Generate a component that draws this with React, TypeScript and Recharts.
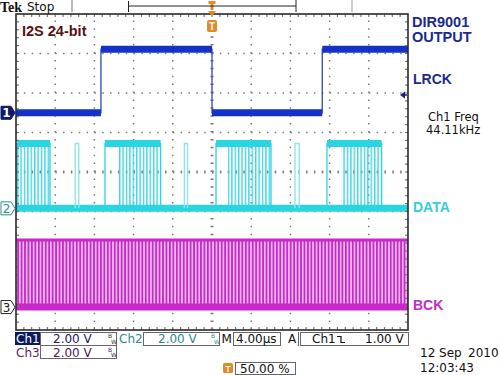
import React from 'react';
import { ComposedChart, Line, XAxis, YAxis, ReferenceLine, ReferenceArea, ReferenceDot } from 'recharts';

// ---- axes: time in µs (4 µs/div, 10 div), vertical in screen divisions (8 div)
const timeTicks = [0, 4, 8, 12, 16, 20, 24, 28, 32, 36, 40];
const divTicks = [-4, -3, -2, -1, 0, 1, 2, 3, 4];

// ---- Ch1 : LRCK (blue)
const lrckTimes = [0, 8.67, 8.67, 20.0, 20.0, 31.25, 31.25, 40];
const lrckLevels = [1.5, 1.5, 3.11, 3.11, 1.5, 1.5, 3.11, 3.11];

// ---- Ch2 : DATA (cyan)
const dataLow = -0.92;
const dataHigh = 0.72;
const burstStart = [0.13, 9.08, 20.41, 31.73];
const burstDenseStart = [0.13, 10.51, 21.63, 33.24];
const burstEnd = [3.47, 14.76, 26.02, 37.31];
const glitchStart = [6.05, 17.18, 28.47];
const glitchEnd = [6.4, 17.5, 28.9];

// ---- Ch3 : BCK (magenta)
const bckLow = -3.42;
const bckHigh = -1.72;
const bckSpan = [0, 40];

// ---- markers
const ch1TriggerLevel = 1.95;
const triggerTime = 20;

const BLUE = '#1432c8';
const CYAN = '#2ad4e0';
const MAGENTA = '#c828c8';
const NAVY = '#1b2a8f';
const ORANGE = '#e3892a';
const FONT = 'DejaVu Sans';
const ARIAL = 'Liberation Sans';

const lrckLine = lrckTimes.map((t, i) => ({ t, v: lrckLevels[i] }));
const lrckFlat: { t: number; v: number }[][] = [];
for (let i = 0; i < lrckTimes.length - 1; i++) {
  if (lrckLevels[i] === lrckLevels[i + 1] && lrckTimes[i] !== lrckTimes[i + 1]) {
    lrckFlat.push([
      { t: lrckTimes[i], v: lrckLevels[i] },
      { t: lrckTimes[i + 1], v: lrckLevels[i + 1] },
    ]);
  }
}
const dataBaseline = [
  { t: timeTicks[0], v: dataLow },
  { t: timeTicks[timeTicks.length - 1], v: dataLow },
];
const burstEdges = burstStart.map((s, i) => [
  { t: s, v: dataLow },
  { t: s, v: dataHigh },
  { t: burstEnd[i], v: dataHigh },
  { t: burstEnd[i], v: dataLow },
]);
const burstTops = burstStart.map((s, i) => [
  { t: s, v: dataHigh },
  { t: burstEnd[i], v: dataHigh },
]);
const glitches = glitchStart.map((s, i) => [
  { t: s, v: dataLow },
  { t: s, v: dataHigh },
  { t: glitchEnd[i], v: dataHigh },
  { t: glitchEnd[i], v: dataLow },
]);
const bckLowLine = bckSpan.map((t) => ({ t, v: bckLow }));
const bckHighLine = bckSpan.map((t) => ({ t, v: bckHigh }));

const ChannelMarker = (p: any) => {
  const { cx, cy, label, fill, stroke, color, bold } = p;
  return (
    <g>
      <path
        d={`M${cx - 15},${cy - 6.5} H${cx - 5} L${cx - 1},${cy} L${cx - 5},${cy + 6.5} H${cx - 15} Z`}
        fill={fill}
        stroke={stroke}
        strokeWidth={1}
      />
      <text x={cx - 9.5} y={cy + 4.5} textAnchor="middle" fontSize={12} fontWeight={bold ? 'bold' : 'normal'} fill={color} fontFamily={FONT}>
        {label}
      </text>
    </g>
  );
};

const BorderShape = (p: any) => {
  const { x, y, width, height } = p;
  const nx = (timeTicks.length - 1) * 5;
  const ny = (divTicks.length - 1) * 5;
  const ticks: React.ReactNode[] = [];
  for (let i = 1; i < nx; i++) {
    const xx = x + (width * i) / nx;
    ticks.push(<line key={'t' + i} x1={xx} x2={xx} y1={y} y2={y + 3} />);
    ticks.push(<line key={'b' + i} x1={xx} x2={xx} y1={y + height - 3} y2={y + height} />);
  }
  for (let i = 1; i < ny; i++) {
    const yy = y + (height * i) / ny;
    ticks.push(<line key={'l' + i} x1={x} x2={x + 3} y1={yy} y2={yy} />);
    ticks.push(<line key={'r' + i} x1={x + width - 3} x2={x + width} y1={yy} y2={yy} />);
  }
  return (
    <g>
      <g stroke="#777" strokeWidth={1.2}>{ticks}</g>
      <rect x={x} y={y} width={width} height={height} fill="none" stroke="#2a2a2a" strokeWidth={1.6} />
    </g>
  );
};

const TriggerPos = (p: any) => {
  const { cx, cy } = p;
  return (
    <g>
      <rect x={cx - 3.5} y={1} width={7} height={3} fill={ORANGE} />
      <rect x={cx - 1.5} y={1} width={3} height={9} fill={ORANGE} />
      <path d={`M${cx - 4},${cy - 3} L${cx + 4},${cy - 3} L${cx},${cy + 2} Z`} fill={ORANGE} />
      <rect x={cx - 5} y={cy + 6} width={10} height={12} rx={2} fill={ORANGE} />
      <text x={cx} y={cy + 16} textAnchor="middle" fontSize={10} fontWeight="bold" fill="#fff5e0" fontFamily={ARIAL}>T</text>
    </g>
  );
};

const TrigLevel = (p: any) => {
  const { cx, cy } = p;
  return (
    <g>
      <path d={`M${cx - 8},${cy} L${cx - 3},${cy - 3.5} L${cx - 3},${cy + 3.5} Z`} fill="#1a2070" />
      <line x1={cx - 3} x2={cx - 1} y1={cy} y2={cy} stroke="#1a2070" strokeWidth={1.5} />
    </g>
  );
};

const Overlay = () => (
  <svg width={500} height={375} style={{ position: 'absolute', left: 0, top: 0, pointerEvents: 'none' }}>
    {/* top bar */}
    <text x={0} y={11.5} fontFamily="Liberation Serif" fontWeight="bold" fontSize={14} fill="#111">Tek</text>
    <text x={27} y={10.5} fontFamily={FONT} fontSize={12} fill="#111">Stop</text>
    <line x1={72} x2={72} y1={0} y2={12} stroke="#777" strokeWidth={1} />
    <path d="M128.5,1 V12 M128.5,6 H296 M296,0 V12" stroke="#222" strokeWidth={1} fill="none" />
    <line x1={352} x2={352} y1={0} y2={12} stroke="#999" strokeWidth={1} />

    {/* in-plot title */}
    <text x={22} y={35.5} fontFamily={ARIAL} fontWeight="bold" fontSize={14.5} fill="#5a1010">I2S 24-bit</text>

    {/* right labels */}
    <text x={412} y={26.5} fontFamily={ARIAL} fontWeight="bold" fontSize={14.5} fill={NAVY}>DIR9001</text>
    <text x={412} y={41.5} fontFamily={ARIAL} fontWeight="bold" fontSize={14.5} fill={NAVY}>OUTPUT</text>
    <text x={413} y={83.5} fontFamily={ARIAL} fontWeight="bold" fontSize={14} fill={NAVY}>LRCK</text>
    <text x={428} y={121} fontFamily={FONT} fontSize={11.5} fill="#111">Ch1 Freq</text>
    <text x={426} y={134} fontFamily={FONT} fontSize={11.5} fill="#111">44.11kHz</text>
    <text x={413} y={212} fontFamily={ARIAL} fontWeight="bold" fontSize={14} fill="#36cdd8">DATA</text>
    <text x={413} y={310} fontFamily={ARIAL} fontWeight="bold" fontSize={14} fill="#c12cc3">BCK</text>

    {/* status row 1 */}
    <rect x={15} y={332} width={25} height={13} fill="#0b1a5e" />
    <text x={16} y={343} fontFamily={FONT} fontSize={12} fill="#fff">Ch1</text>
    <rect x={40.5} y={332.5} width={76} height={13} fill="#fff" stroke="#666" strokeWidth={1} />
    <text x={53} y={343} fontFamily={FONT} fontSize={12} fill="#1a2060">2.00 V</text>
    <text x={108} y={338} fontFamily={FONT} fontSize={6} fill="#333">B</text>
    <text x={111} y={343.5} fontFamily={FONT} fontSize={6} fill="#333">W</text>
    <text x={119} y={343} fontFamily={FONT} fontSize={12} fill="#2e8b8b">Ch2</text>
    <rect x={143.5} y={332.5} width={76} height={13} fill="#fff" stroke="#666" strokeWidth={1} />
    <text x={158} y={343} fontFamily={FONT} fontSize={12} fill="#2e8b8b">2.00 V</text>
    <text x={211} y={338} fontFamily={FONT} fontSize={6} fill="#2e8b8b">B</text>
    <text x={214} y={343.5} fontFamily={FONT} fontSize={6} fill="#2e8b8b">W</text>
    <text x={221.5} y={343} fontFamily={FONT} fontSize={12} fill="#111">M</text>
    <rect x={233.5} y={332.5} width={47} height={13} fill="#fff" stroke="#666" strokeWidth={1} />
    <text x={236} y={343} fontFamily={FONT} fontSize={12} fill="#111">4.00µs</text>
    <text x={288} y={343} fontFamily={FONT} fontSize={12} fill="#111">A</text>
    <line x1={298.5} x2={298.5} y1={332} y2={346} stroke="#666" />
    <rect x={300.5} y={332.5} width={108} height={13} fill="#fff" stroke="#666" strokeWidth={1} />
    <text x={312} y={343} fontFamily={FONT} fontSize={12} fill="#111">Ch1</text>
    <path d="M337,336.5 H341 V342.5 H345" stroke="#111" strokeWidth={1.2} fill="none" />
    <text x={365} y={343} fontFamily={FONT} fontSize={12} fill="#111">1.00 V</text>

    {/* status row 2 */}
    <text x={16} y={357} fontFamily={FONT} fontSize={12} fill="#5b2260">Ch3</text>
    <rect x={40.5} y={345.5} width={76} height={13} fill="#fff" stroke="#666" strokeWidth={1} />
    <text x={53} y={356.5} fontFamily={FONT} fontSize={12} fill="#4a1a50">2.00 V</text>
    <text x={108} y={351.5} fontFamily={FONT} fontSize={6} fill="#4a1a50">B</text>
    <text x={111} y={357} fontFamily={FONT} fontSize={6} fill="#4a1a50">W</text>

    {/* status row 3 */}
    <rect x={223} y={363} width={10} height={10} rx={1.5} fill={ORANGE} />
    <text x={228} y={371.5} textAnchor="middle" fontFamily={ARIAL} fontWeight="bold" fontSize={9} fill="#fff5e0">T</text>
    <rect x={235.5} y={362.5} width={60} height={12} fill="#fff" stroke="#666" strokeWidth={1} />
    <text x={240} y={373} fontFamily={FONT} fontSize={12} fill="#111">50.00 %</text>

    {/* date */}
    <text x={420} y={357} fontFamily={FONT} fontSize={12} fill="#111">12 Sep</text>
    <text x={468} y={357} fontFamily={FONT} fontSize={12} fill="#111">2010</text>
    <text x={420} y={372} fontFamily={FONT} fontSize={12} fill="#111">12:03:43</text>
  </svg>
);

export default function App() {
  const inner = timeTicks.slice(1, -1);
  const innerDiv = divTicks.slice(1, -1);
  return (
    <div style={{ position: 'absolute', left: 0, top: 0, width: 500, height: 375, background: '#fff', overflow: 'hidden' }}>
      <ComposedChart width={500} height={375} margin={{ top: 14, right: 92, bottom: 45, left: 16 }}>
        <defs>
          <pattern id="bckStripes" patternUnits="userSpaceOnUse" width={3.45} height={10}>
            <rect width={3.45} height={10} fill="#ebb6ee" />
            <rect x={0} width={1.7} height={10} fill={MAGENTA} />
          </pattern>
          <pattern id="dataStripes" patternUnits="userSpaceOnUse" width={3.4} height={10}>
            <rect x={0} width={1.4} height={10} fill="#3fd6e2" />
          </pattern>
        </defs>
        <XAxis type="number" dataKey="t" domain={[timeTicks[0], timeTicks[timeTicks.length - 1]]} ticks={timeTicks} hide allowDataOverflow />
        <YAxis type="number" dataKey="v" domain={[divTicks[0], divTicks[divTicks.length - 1]]} ticks={divTicks} hide allowDataOverflow />

        {inner.map((t) => (
          <ReferenceLine
            key={'vx' + t}
            x={t}
            stroke="#7a7a7a"
            strokeWidth={t === triggerTime ? 3 : 1.5}
            strokeDasharray="1.5 6.4"
            zIndex={-100}
          />
        ))}
        {innerDiv.map((d) => (
          <ReferenceLine
            key={'hy' + d}
            y={d}
            stroke="#7a7a7a"
            strokeWidth={d === 0 ? 3 : 1.5}
            strokeDasharray="1.5 6.34"
            zIndex={-100}
          />
        ))}

        {/* BCK */}
        <ReferenceArea x1={bckSpan[0]} x2={bckSpan[1]} y1={bckLow} y2={bckHigh} fill="url(#bckStripes)" fillOpacity={1} stroke="none" zIndex={100} />
        <Line data={bckHighLine} dataKey="v" stroke={MAGENTA} strokeWidth={3} dot={false} isAnimationActive={false} />
        <Line data={bckLowLine} dataKey="v" stroke={MAGENTA} strokeWidth={7} dot={false} isAnimationActive={false} />

        {/* DATA */}
        {burstStart.map((s, i) => (
          <ReferenceArea key={'ds' + i} x1={burstDenseStart[i]} x2={burstEnd[i]} y1={dataLow} y2={dataHigh} fill="url(#dataStripes)" fillOpacity={1} stroke="none" zIndex={100} />
        ))}
        <Line data={dataBaseline} dataKey="v" stroke={CYAN} strokeWidth={7} dot={false} isAnimationActive={false} />
        {glitches.map((g, i) => (
          <Line key={'g' + i} data={g} dataKey="v" stroke="#8fe4ec" strokeWidth={1.4} dot={false} isAnimationActive={false} />
        ))}
        {burstEdges.map((b, i) => (
          <Line key={'be' + i} data={b} dataKey="v" stroke={CYAN} strokeWidth={1.3} dot={false} isAnimationActive={false} />
        ))}
        {burstTops.map((b, i) => (
          <Line key={'bt' + i} data={b} dataKey="v" stroke={CYAN} strokeWidth={7} dot={false} isAnimationActive={false} />
        ))}

        {/* LRCK */}
        <Line data={lrckLine} dataKey="v" stroke="#3446b0" strokeWidth={1.3} dot={false} isAnimationActive={false} />
        {lrckFlat.map((seg, i) => (
          <Line key={'lf' + i} data={seg} dataKey="v" stroke={BLUE} strokeWidth={7} dot={false} isAnimationActive={false} />
        ))}

        {/* graticule border */}
        <ReferenceArea
          x1={timeTicks[0]}
          x2={timeTicks[timeTicks.length - 1]}
          y1={divTicks[0]}
          y2={divTicks[divTicks.length - 1]}
          shape={BorderShape}
          zIndex={700}
        />

        {/* channel ground markers */}
        <ReferenceDot x={timeTicks[0]} y={lrckLevels[0]} r={0} ifOverflow="visible" zIndex={800}
          shape={(p: any) => <ChannelMarker {...p} label="1" fill="#0d1a6e" stroke="#0d1a6e" color="#fff" bold />} />
        <ReferenceDot x={timeTicks[0]} y={dataLow} r={0} ifOverflow="visible" zIndex={800}
          shape={(p: any) => <ChannelMarker {...p} label="2" fill="#fff" stroke="#2e8b8b" color="#2e8b8b" />} />
        <ReferenceDot x={timeTicks[0]} y={bckLow} r={0} ifOverflow="visible" zIndex={800}
          shape={(p: any) => <ChannelMarker {...p} label="3" fill="#fff" stroke="#222" color="#222" />} />
        <ReferenceDot x={timeTicks[timeTicks.length - 1]} y={ch1TriggerLevel} r={0} ifOverflow="visible" zIndex={800} shape={TrigLevel} />
        <ReferenceDot x={triggerTime} y={divTicks[divTicks.length - 1]} r={0} ifOverflow="visible" zIndex={800} shape={TriggerPos} />
      </ComposedChart>
      <Overlay />
    </div>
  );
}
